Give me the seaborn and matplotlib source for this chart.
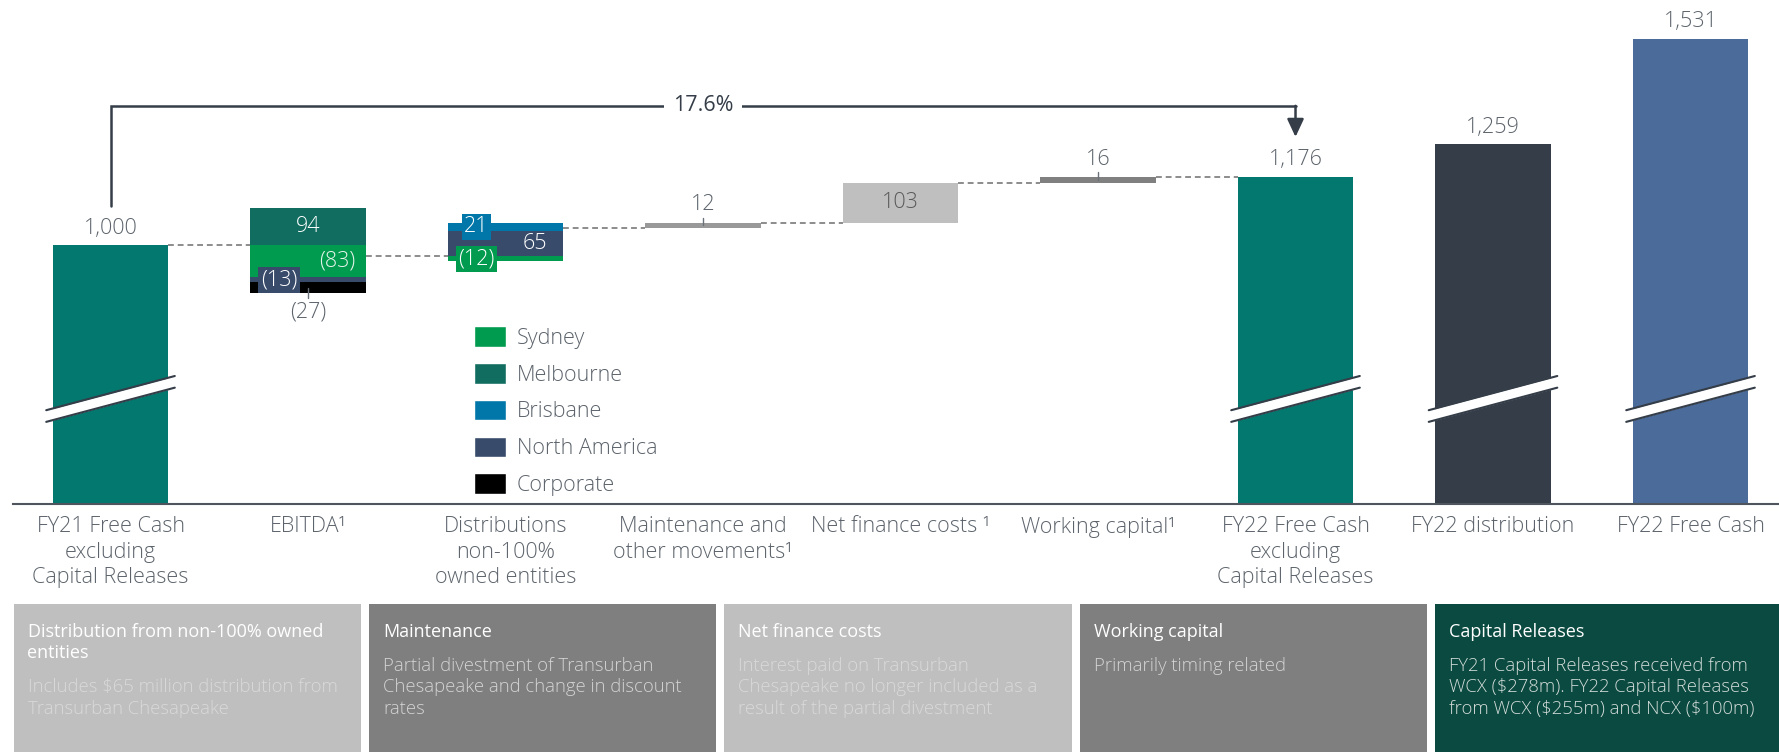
# Free cash bridge FY21 -> FY22 (waterfall with regional split)

import pandas as pd
import seaborn as sns
import matplotlib.pyplot as plt
from matplotlib.patches import Patch, Rectangle

# ---- data ----
categories = ["FY21 Free Cash\nexcluding\nCapital Releases", "EBITDA¹",
              "Distributions\nnon-100%\nowned entities", "Maintenance and\nother movements¹",
              "Net finance costs ¹", "Working capital¹",
              "FY22 Free Cash\nexcluding\nCapital Releases", "FY22 distribution", "FY22 Free Cash"]
total_idx = [0, 6, 7, 8]
total_values = [1000, 1176, 1259, 1531]
total_colors = ["#03786f", "#03786f", "#343d48", "#4b6b9b"]

ebitda_regions = ["Melbourne", "Sydney", "North America", "Corporate"]
ebitda_values = [94, -83, -13, -27]
dist_regions = ["North America", "Brisbane", "Sydney"]
dist_values = [65, 21, -12]
other_values = [12, 103, 16]   # maintenance, net finance costs, working capital
other_colors = ["#999999", "#bfbfbf", "#808080"]

region_names = ["Sydney", "Melbourne", "Brisbane", "North America", "Corporate"]
region_colors = ["#009b4e", "#116d60", "#0077a8", "#384b6b", "#000000"]
region_col = dict(zip(region_names, region_colors))

box_titles = ["Distribution from non-100% owned\nentities", "Maintenance", "Net finance costs",
              "Working capital", "Capital Releases"]
box_bodies = ["Includes $65 million distribution from\nTransurban Chesapeake",
              "Partial divestment of Transurban\nChesapeake and change in discount\nrates",
              "Interest paid on Transurban\nChesapeake no longer included as a\nresult of the partial divestment",
              "Primarily timing related",
              "FY21 Capital Releases received from\nWCX ($278m). FY22 Capital Releases\nfrom WCX ($255m) and NCX ($100m)"]
box_colors = ["#bfbfbf", "#7f7f7f", "#bfbfbf", "#7f7f7f", "#0b4a40"]
box_text_colors = ["#d9d9d9", "#d4d4d4", "#d9d9d9", "#d4d4d4", "#d2dcd9"]

sns.set_theme(style="white")
plt.rcParams['font.family'] = ['Open Sans', 'DejaVu Sans']

W, H = 1779, 752
fig = plt.figure(figsize=(W / 100, H / 100), dpi=100)
ax = fig.add_axes([13 / W, (H - 504) / H, (W - 13) / W, 504 / H])

bar_w = 0.585
label_col = "#5c636b"
dark = "#343d48"
fs = 15.5

# totals through seaborn
df = pd.DataFrame({"cat": [categories[i] for i in total_idx], "val": total_values})
sns.barplot(data=df, x="cat", y="val", order=categories, hue="cat",
            palette=dict(zip(df["cat"], total_colors)), width=bar_w, saturation=1,
            errorbar=None, legend=False, linewidth=0, ax=ax)

ax.set_xlim(-0.4937, 8.448)
ax.set_ylim(333.7, 1630.3)
ypx = (1630.3 - 333.7) / 504  # data units per pixel


def stack(pos, start, regions, values):
    up, down = start, start
    segs = []
    for r, v in zip(regions, values):
        if v >= 0:
            ax.bar(pos, v, bottom=up, width=bar_w, color=region_col[r], linewidth=0, zorder=2)
            segs.append((up, up + v))
            up += v
        else:
            ax.bar(pos, v, bottom=down, width=bar_w, color=region_col[r], linewidth=0, zorder=2)
            segs.append((down + v, down))
            down += v
    return segs, start + sum(values)


levels = [total_values[0]]
seg_e, lvl = stack(1, levels[-1], ebitda_regions, ebitda_values)
levels.append(lvl)
seg_d, lvl = stack(2, levels[-1], dist_regions, dist_values)
levels.append(lvl)
for k, (v, c) in enumerate(zip(other_values, other_colors)):
    ax.bar(3 + k, v, bottom=levels[-1], width=bar_w, color=c, linewidth=0, zorder=2)
    levels.append(levels[-1] + v)

# dashed connectors
for i, lv in enumerate(levels):
    ax.plot([i + bar_w / 2, i + 1 - bar_w / 2], [lv, lv], color="#8c8c8c", lw=1.4,
            ls=(0, (3, 2)), zorder=1)


def fmt(v):
    return f"({abs(v)})" if v < 0 else f"{v:,}"


def mid(s):
    return (s[0] + s[1]) / 2


def lbl(x, y, s, color=label_col, box=None, **kw):
    bb = None if box is None else dict(boxstyle="square,pad=0.12", fc=box, ec="none")
    ax.text(x, y, s, ha="center", va="center", color=color, fontsize=fs, fontweight="light",
            bbox=bb, zorder=5, **kw)


off = 29 / 197.5  # 29 px sideways

# totals labels
for i, v in zip(total_idx, total_values):
    lbl(i, v + 17 * ypx, fmt(v))

# EBITDA labels
lbl(1, mid(seg_e[0]), fmt(ebitda_values[0]), color="white")
lbl(1 + off, mid(seg_e[1]), fmt(ebitda_values[1]), color="#e8f4ec")
lbl(1 - off, mid(seg_e[2]), fmt(ebitda_values[2]), color="white", box=region_col["North America"])
lbl(1, seg_e[3][0] - 19 * ypx, fmt(ebitda_values[3]))
ax.plot([1, 1], [seg_e[3][0] + 5 * ypx, seg_e[3][0] - 5 * ypx], color="#6b7178", lw=1, zorder=4)

# distribution labels
lbl(2 + off, mid(seg_d[0]), fmt(dist_values[0]), color="white")
lbl(2 - off, mid(seg_d[1]), fmt(dist_values[1]), color="white", box=region_col["Brisbane"])
lbl(2 - off, mid(seg_d[2]), fmt(dist_values[2]), color="white", box=region_col["Sydney"])

# maintenance / net finance / working capital
lbl(3, levels[3] + 18 * ypx, fmt(other_values[0]))
ax.plot([3, 3], [levels[3] - 2 * ypx, levels[3] + 5 * ypx], color="#6b7178", lw=1, zorder=4)
lbl(4, (levels[3] + levels[4]) / 2, fmt(other_values[1]), color="#595959")
lbl(5, levels[5] + 17 * ypx, fmt(other_values[2]))
ax.plot([5, 5], [levels[5] - 3 * ypx, levels[5] + 5 * ypx], color="#6b7178", lw=1, zorder=4)

# growth arrow
growth = total_values[1] / total_values[0] - 1
arrow_top, arrow_start, arrow_tip = 1358, 1100, 1278
ax.plot([0, 0, 6], [arrow_start, arrow_top, arrow_top], color=dark, lw=1.8, zorder=3,
        solid_joinstyle="miter")
ax.annotate("", xy=(6, arrow_tip), xytext=(6, arrow_top),
            arrowprops=dict(arrowstyle="-|>,head_length=0.9,head_width=0.42", mutation_scale=12,
                            color=dark, lw=1.8, shrinkA=0, shrinkB=0), zorder=3)
ax.text(3, arrow_top, f"{growth:.1%}", ha="center", va="center", color=dark, fontsize=fs,
        bbox=dict(boxstyle="square,pad=0.4", fc="white", ec="none"), zorder=4)

# axis break marks on the tall bars
brk_mid, rise, gap = 604, 88, 30
for i in total_idx:
    xs = [i - bar_w / 2 - 0.033, i + bar_w / 2 + 0.033]
    lo = [brk_mid - gap / 2 - rise / 2, brk_mid - gap / 2 + rise / 2]
    hi = [y + gap for y in lo]
    ax.fill_between(xs, lo, hi, color="white", lw=0, zorder=3)
    ax.plot(xs, lo, color=dark, lw=1.5, zorder=4)
    ax.plot(xs, hi, color=dark, lw=1.5, zorder=4)

# axes styling
ax.set_xlabel("")
ax.set_ylabel("")
ax.set_yticks([])
ax.set_xticks(range(len(categories)))
ax.set_xticklabels(categories, fontsize=fs, color=label_col, fontweight="light", linespacing=1.28)
ax.tick_params(axis="x", length=0, pad=9)
for s in ["top", "left", "right"]:
    ax.spines[s].set_visible(False)
ax.spines["bottom"].set_color("#4f555c")
ax.spines["bottom"].set_linewidth(1.5)

# legend
handles = [Patch(facecolor=c, label=n) for n, c in zip(region_names, region_colors)]
ax.legend(handles=handles, loc="upper left", bbox_to_anchor=(474 / W, 1 - 326 / H),
          bbox_transform=fig.transFigure, frameon=False, handlelength=1.5, handleheight=1.1,
          handletextpad=0.5, labelspacing=0.66, borderpad=0, borderaxespad=0,
          prop=dict(size=fs, weight="light"), labelcolor=label_col)

# commentary boxes under the chart
for k in range(5):
    left = 13.5 + 355.4 * k
    fig.add_artist(Rectangle((left / W, 0), 347.5 / W, (H - 604) / H,
                             transform=fig.transFigure, color=box_colors[k], lw=0))
    y = 632
    for line in box_titles[k].split("\n"):
        fig.text((left + 14) / W, 1 - y / H, line, color="white", fontsize=13,
                 va="center", ha="left")
        y += 21
    y += 13
    for line in box_bodies[k].split("\n"):
        fig.text((left + 14) / W, 1 - y / H, line, color=box_text_colors[k], fontsize=13.3,
                 fontweight="light", va="center", ha="left", parse_math=False)
        y += 21.5

fig.savefig("out.png", dpi=100)
